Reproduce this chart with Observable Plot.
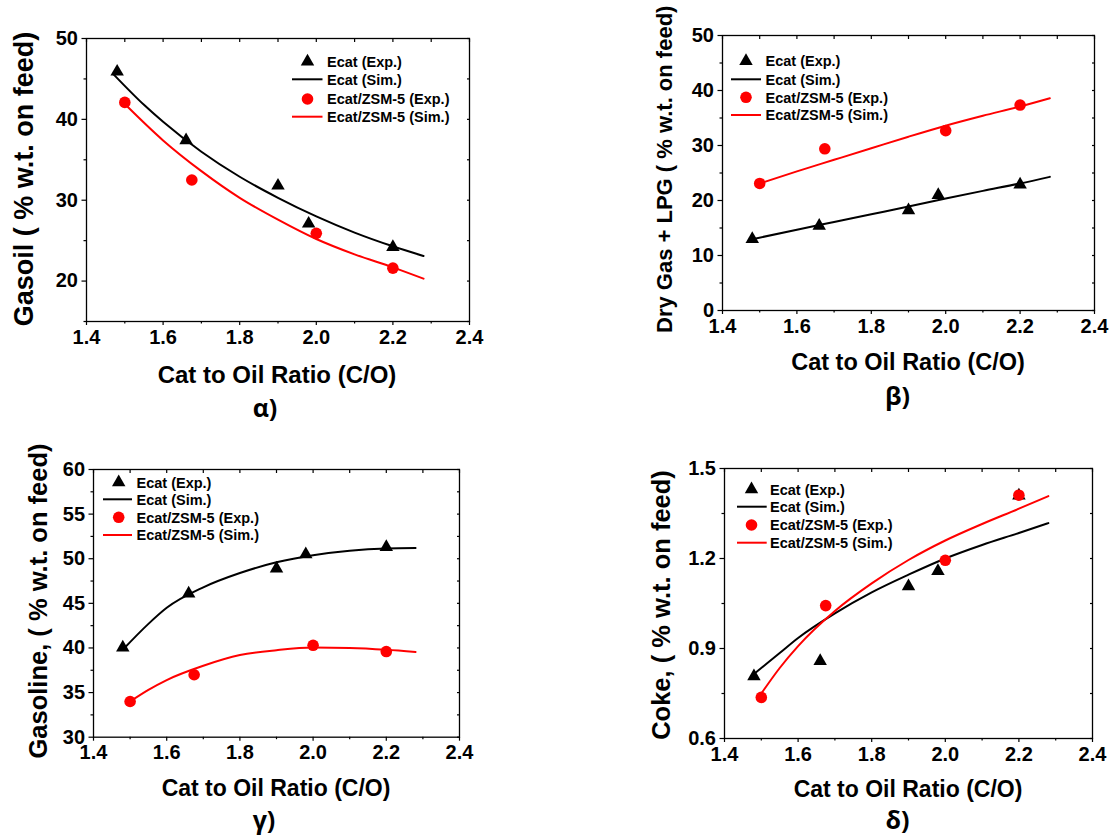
<!DOCTYPE html>
<html><head><meta charset="utf-8">
<script src="https://cdn.jsdelivr.net/npm/d3@7"></script>
<script src="https://cdn.jsdelivr.net/npm/@observablehq/plot@0.6"></script>
<style>
html,body{margin:0;padding:0;background:#fff;}
#page{position:relative;width:1110px;height:836px;overflow:hidden;background:#fff;}
</style></head><body><div id="page"></div>
<script>
// ---------- data ----------
const xMajorTicks = [1.4, 1.6, 1.8, 2.0, 2.2, 2.4];
const xMinorTicks = [1.5, 1.7, 1.9, 2.1, 2.3];
const legendLabels = ["Ecat (Exp.)", "Ecat (Sim.)", "Ecat/ZSM-5 (Exp.)", "Ecat/ZSM-5 (Sim.)"];
const xTitle = "Cat to Oil Ratio (C/O)";

const ecatExpX = [1.48, 1.66, 1.90, 1.98, 2.20];
const zsmExpX = [1.50, 1.675, 2.00, 2.20];

// alpha: Gasoil
const gasoilEcatExp = [45.9, 37.4, 31.8, 27.1, 24.2];
const gasoilZsmExp = [42.1, 32.5, 25.9, 21.6];
const gasoilEcatSimX = [1.47, 1.55, 1.6, 1.7, 1.8, 1.9, 2.0, 2.1, 2.2, 2.28];
const gasoilEcatSim = [45.6, 41.8, 39.7, 36.0, 32.9, 30.3, 28.0, 26.0, 24.3, 23.1];
const gasoilZsmSimX = [1.5, 1.6, 1.7, 1.8, 1.9, 2.0, 2.1, 2.2, 2.28];
const gasoilZsmSim = [41.9, 37.4, 33.6, 30.3, 27.6, 25.2, 23.3, 21.7, 20.3];

// beta: Dry Gas + LPG
const dryEcatExp = [13.0, 15.4, 18.2, 21.0, 22.9];
const dryZsmExp = [23.1, 29.4, 32.7, 37.35];
const dryEcatSimX = [1.48, 1.6, 1.7, 1.8, 1.9, 2.0, 2.1, 2.2, 2.28];
const dryEcatSim = [12.96, 14.7, 16.1, 17.5, 18.9, 20.35, 21.75, 23.1, 24.3];
const dryZsmSimX = [1.5, 1.6, 1.7, 1.8, 1.9, 2.0, 2.1, 2.2, 2.28];
const dryZsmSim = [23.1, 25.3, 27.4, 29.5, 31.6, 33.6, 35.4, 37.1, 38.6];

// gamma: Gasoline
const gasolineEcatExp = [40.05, 46.1, 48.9, 50.5, 51.3];
const gasolineZsmExp = [34.0, 37.0, 40.3, 39.6];
const gasolineEcatSimX = [1.48, 1.55, 1.6, 1.7, 1.8, 1.9, 2.0, 2.1, 2.2, 2.28];
const gasolineEcatSim = [39.8, 42.7, 44.5, 46.8, 48.4, 49.6, 50.4, 50.9, 51.15, 51.2];
const gasolineZsmSimX = [1.5, 1.55, 1.6, 1.7, 1.8, 1.9, 2.0, 2.1, 2.2, 2.28];
const gasolineZsmSim = [34.0, 35.3, 36.4, 38.0, 39.2, 39.75, 40.05, 40.0, 39.8, 39.55];

// delta: Coke
const cokeEcatExp = [0.807, 0.858, 1.107, 1.158, 1.41];
const cokeZsmExp = [0.737, 1.043, 1.194, 1.411];
const cokeEcatSimX = [1.48, 1.55, 1.6, 1.7, 1.8, 1.9, 2.0, 2.1, 2.2, 2.28];
const cokeEcatSim = [0.815, 0.885, 0.935, 1.017, 1.087, 1.146, 1.2, 1.245, 1.285, 1.318];
const cokeZsmSimX = [1.5, 1.55, 1.6, 1.7, 1.8, 1.9, 2.0, 2.1, 2.2, 2.28];
const cokeZsmSim = [0.75, 0.835, 0.908, 1.025, 1.117, 1.195, 1.26, 1.315, 1.366, 1.408];

// ---------- layout ----------
const FONT = "'Liberation Sans', Arial, Helvetica, sans-serif";
const RED = "#ff0000";
const zip = (xs, ys) => xs.map((x, i) => ({x, y: ys[i]}));

const panels = [
  {fx: [85.5, 468.5], fy: [37.5, 320.5], yDomain: [15, 50], yMajor: [20, 30, 40, 50], yMinor: [15, 25, 35, 45], yFmt: d3.format("d"),
   ecatExp: gasoilEcatExp, zsmExp: gasoilZsmExp, ecatSimX: gasoilEcatSimX, ecatSim: gasoilEcatSim, zsmSimX: gasoilZsmSimX, zsmSim: gasoilZsmSim,
   yTitle: "Gasoil ( % w.t. on feed)", yT: {x: 32.5, y: 179, size: 27, anchor: "middle"},
   xT: {x: 277, y: 383, size: 24}, cap: "α)", capPos: {x: 265, y: 417},
   leg: {sx: 307.5, l0: 292, l1: 322.5, tx: 327, rows: [61.5, 79.3, 99, 116.7]}},
  {fx: [722, 1094], fy: [35, 310], yDomain: [0, 50], yMajor: [0, 10, 20, 30, 40, 50], yMinor: [5, 15, 25, 35, 45], yFmt: d3.format("d"),
   ecatExp: dryEcatExp, zsmExp: dryZsmExp, ecatSimX: dryEcatSimX, ecatSim: dryEcatSim, zsmSimX: dryZsmSimX, zsmSim: dryZsmSim,
   yTitle: "Dry Gas + LPG ( % w.t. on feed)", yT: {x: 672, y: 333, size: 22, anchor: "start"},
   xT: {x: 908, y: 370, size: 23.5}, cap: "β)", capPos: {x: 897.5, y: 405},
   leg: {sx: 746, l0: 731, l1: 761, tx: 765.5, rows: [61, 79.3, 97.3, 115]}},
  {fx: [93, 459], fy: [469, 736.7], yDomain: [30, 60], yMajor: [30, 35, 40, 45, 50, 55, 60], yMinor: [32.5, 37.5, 42.5, 47.5, 52.5, 57.5], yFmt: d3.format("d"),
   ecatExp: gasolineEcatExp, zsmExp: gasolineZsmExp, ecatSimX: gasolineEcatSimX, ecatSim: gasolineEcatSim, zsmSimX: gasolineZsmSimX, zsmSim: gasolineZsmSim,
   yTitle: "Gasoline, ( % w.t. on feed)", yT: {x: 47, y: 601, size: 25.5, anchor: "middle"},
   xT: {x: 276, y: 796, size: 23}, cap: "γ)", capPos: {x: 264, y: 829},
   leg: {sx: 118.7, l0: 103, l1: 132, tx: 136.5, rows: [482.3, 499.3, 517.3, 535]}},
  {fx: [724, 1092], fy: [468.3, 738.3], yDomain: [0.6, 1.5], yMajor: [0.6, 0.9, 1.2, 1.5], yMinor: [0.75, 1.05, 1.35], yFmt: d3.format(".1f"),
   ecatExp: cokeEcatExp, zsmExp: cokeZsmExp, ecatSimX: cokeEcatSimX, ecatSim: cokeEcatSim, zsmSimX: cokeZsmSimX, zsmSim: cokeZsmSim,
   yTitle: "Coke, ( % w.t. on feed)", yT: {x: 670, y: 605, size: 25.5, anchor: "middle"},
   xT: {x: 908, y: 797, size: 23}, cap: "δ)", capPos: {x: 897.5, y: 829},
   leg: {sx: 751.5, l0: 737, l1: 766.7, tx: 770, rows: [489.3, 506.7, 525, 542.7]}}
];

const page = document.getElementById("page");
const blank = () => "";

for (const p of panels) {
  const ml = 70, mr = 20, mt = 12, mb = 40;
  const w = p.fx[1] - p.fx[0], h = p.fy[1] - p.fy[0];
  const svg = Plot.plot({
    width: w + ml + mr, height: h + mt + mb,
    marginLeft: ml, marginRight: mr, marginTop: mt, marginBottom: mb,
    x: {domain: [1.4, 2.4], label: null},
    y: {domain: p.yDomain, label: null},
    style: {background: "transparent", fontFamily: FONT, fontWeight: "bold", color: "#000", overflow: "visible"},
    marks: [
      Plot.axisX({ticks: xMajorTicks, tickFormat: d3.format(".1f"), tickSize: 4, tickPadding: 4, fontSize: 20, label: null, strokeWidth: 1.2}),
      Plot.axisX({ticks: xMinorTicks, tickFormat: blank, tickSize: 2.5, label: null, strokeWidth: 1.2}),
      Plot.axisX({anchor: "top", ticks: [...xMajorTicks, ...xMinorTicks], tickFormat: blank, tickSize: 3, dy: 3, label: null, strokeWidth: 1.2}),
      Plot.axisY({ticks: p.yMajor, tickFormat: p.yFmt, tickSize: 4.5, tickPadding: 4, fontSize: 20, label: null, strokeWidth: 1.2}),
      Plot.axisY({ticks: p.yMinor, tickFormat: blank, tickSize: 2.5, label: null, strokeWidth: 1.2}),
      Plot.axisY({anchor: "right", ticks: [...p.yMajor, ...p.yMinor], tickFormat: blank, tickSize: 3, dx: -3, label: null, strokeWidth: 1.2}),
      Plot.line(zip(p.ecatSimX, p.ecatSim), {x: "x", y: "y", stroke: "#000", strokeWidth: 2, curve: "monotone-x"}),
      Plot.line(zip(p.zsmSimX, p.zsmSim), {x: "x", y: "y", stroke: RED, strokeWidth: 2, curve: "monotone-x"}),
      Plot.dot(zip(ecatExpX, p.ecatExp), {x: "x", y: "y", symbol: "triangle", r: 5, fill: "#000", stroke: "none"}),
      Plot.dot(zip(zsmExpX, p.zsmExp), {x: "x", y: "y", symbol: "circle", r: 5.8, fill: RED, stroke: "none"}),
      Plot.frame({stroke: "#000", strokeWidth: 1.3})
    ]
  });
  svg.style.position = "absolute";
  svg.style.left = (p.fx[0] - ml) + "px";
  svg.style.top = (p.fy[0] - mt) + "px";
  svg.style.maxWidth = "none";
  page.appendChild(svg);
}

// ---------- overlay: titles, captions, legends ----------
const ov = d3.select(page).append("svg")
  .attr("width", 1110).attr("height", 836)
  .style("position", "absolute").style("left", "0px").style("top", "0px")
  .style("pointer-events", "none");

const triPath = d3.symbol(d3.symbolTriangle, Math.PI * 25)();

for (const p of panels) {
  ov.append("text")
    .attr("transform", `translate(${p.yT.x},${p.yT.y}) rotate(-90)`)
    .attr("text-anchor", p.yT.anchor)
    .attr("font-family", FONT).attr("font-weight", "bold").attr("font-size", p.yT.size)
    .attr("fill", "#000").text(p.yTitle);
  ov.append("text")
    .attr("x", p.xT.x).attr("y", p.xT.y).attr("text-anchor", "middle")
    .attr("font-family", FONT).attr("font-weight", "bold").attr("font-size", p.xT.size)
    .attr("fill", "#000").text(xTitle);
  ov.append("text")
    .attr("x", p.capPos.x).attr("y", p.capPos.y).attr("text-anchor", "middle")
    .attr("font-family", "'Open Sans', Lato, sans-serif").attr("font-weight", "bold").attr("font-size", 25)
    .attr("fill", "#000").text(p.cap);

  const L = p.leg;
  const g = ov.append("g");
  g.append("path").attr("d", triPath).attr("transform", `translate(${L.sx},${L.rows[0]})`).attr("fill", "#000");
  g.append("line").attr("x1", L.l0).attr("x2", L.l1).attr("y1", L.rows[1]).attr("y2", L.rows[1]).attr("stroke", "#000").attr("stroke-width", 2);
  g.append("circle").attr("cx", L.sx).attr("cy", L.rows[2]).attr("r", 5.8).attr("fill", RED);
  g.append("line").attr("x1", L.l0).attr("x2", L.l1).attr("y1", L.rows[3]).attr("y2", L.rows[3]).attr("stroke", RED).attr("stroke-width", 2);
  legendLabels.forEach((t, i) => {
    g.append("text").attr("x", L.tx).attr("y", L.rows[i]).attr("dy", "0.36em")
      .attr("font-family", FONT).attr("font-weight", "bold").attr("font-size", 14.5)
      .attr("fill", "#000").text(t);
  });
}
</script></body></html>
